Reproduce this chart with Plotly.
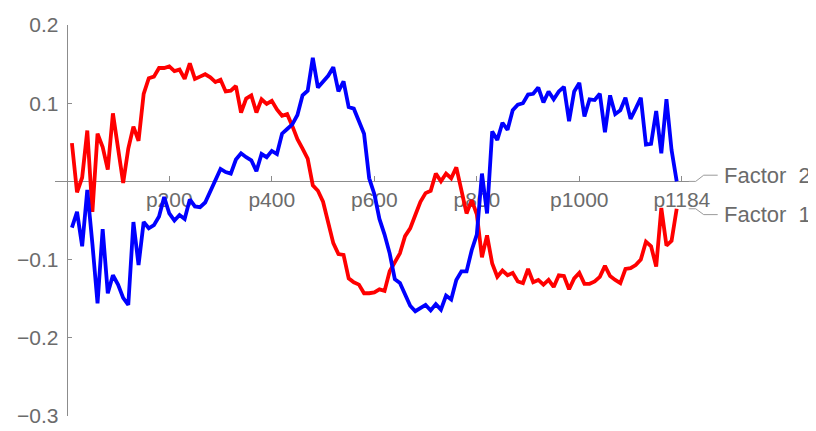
import plotly.graph_objects as go

# ---- data -------------------------------------------------------------
factor1 = [0.049, -0.014, 0.005, 0.065, -0.039, 0.061, 0.044, 0.015, 0.087, 0.045,
           -0.002, 0.042, 0.070, 0.052, 0.112, 0.132, 0.134, 0.145, 0.145, 0.147,
           0.141, 0.143, 0.131, 0.151, 0.131, 0.134, 0.137, 0.133, 0.127, 0.130,
           0.115, 0.116, 0.122, 0.088, 0.106, 0.110, 0.088, 0.105, 0.099, 0.103,
           0.092, 0.084, 0.086, 0.071, 0.054, 0.042, 0.029, -0.005, -0.012, -0.026,
           -0.051, -0.079, -0.093, -0.094, -0.124, -0.129, -0.132, -0.143, -0.143, -0.142,
           -0.138, -0.140, -0.115, -0.103, -0.092, -0.070, -0.060, -0.043, -0.026, -0.015,
           -0.012, 0.010, 0.000, 0.010, 0.004, 0.018, -0.013, -0.041, -0.024, -0.042,
           -0.097, -0.069, -0.105, -0.122, -0.114, -0.120, -0.117, -0.128, -0.130, -0.112,
           -0.129, -0.126, -0.132, -0.126, -0.135, -0.120, -0.121, -0.138, -0.124, -0.117,
           -0.131, -0.131, -0.128, -0.122, -0.108, -0.121, -0.126, -0.130, -0.112, -0.111,
           -0.107, -0.100, -0.077, -0.083, -0.109, -0.034, -0.082, -0.076, -0.035]

factor2 = [-0.059, -0.039, -0.083, -0.011, -0.080, -0.156, -0.061, -0.143, -0.120, -0.132,
           -0.149, -0.158, -0.052, -0.107, -0.052, -0.060, -0.056, -0.045, -0.020, -0.041,
           -0.050, -0.043, -0.048, -0.023, -0.032, -0.033, -0.027, -0.012, 0.004, 0.016,
           0.012, 0.010, 0.028, 0.036, 0.031, 0.027, 0.013, 0.035, 0.031, 0.039,
           0.035, 0.061, 0.067, 0.073, 0.085, 0.110, 0.116, 0.158, 0.120, 0.128,
           0.135, 0.146, 0.115, 0.128, 0.095, 0.093, 0.078, 0.061, 0.004, -0.016,
           -0.048, -0.068, -0.092, -0.125, -0.130, -0.146, -0.159, -0.166, -0.162, -0.158,
           -0.165, -0.157, -0.164, -0.146, -0.151, -0.126, -0.115, -0.115, -0.088, -0.068,
           0.010, -0.041, 0.064, 0.053, 0.075, 0.066, 0.091, 0.098, 0.100, 0.111,
           0.112, 0.120, 0.101, 0.115, 0.105, 0.115, 0.121, 0.077, 0.115, 0.126,
           0.083, 0.105, 0.104, 0.112, 0.063, 0.110, 0.086, 0.091, 0.107, 0.080,
           0.093, 0.107, 0.047, 0.048, 0.090, 0.036, 0.105, 0.040, 0.000]

index = list(range(1, len(factor1) + 1))

x_tick_vals = [20, 40, 60, 80, 100, 120]
x_tick_text = ["p200", "p400", "p600", "p800", "p1000", "p1184"]
y_tick_vals = [-0.3, -0.2, -0.1, 0.1, 0.2]
y_tick_text = ["\u22120.3", "\u22120.2", "\u22120.1", "0.1", "0.2"]
series_names = ["Factor\u00a0\u00a01", "Factor\u00a0\u00a02"]

# ---- layout constants -------------------------------------------------
# the page body adds an 8px margin, so the figure is sized to the visible area
W, H = 808, 423
ML, MR, MT, MB = 47, 127, 16.5, 14.7
XR = [-2.3, 121.4]
YR = [-0.3, 0.2]
AXIS = "#8c8c8c"
LBL = "#6b6b6b"
FONT = "Liberation Sans, Arial, sans-serif"

PW = W - ML - MR
PH = H - MT - MB


def to_px(xv, yv):
    px = ML + (xv - XR[0]) / (XR[1] - XR[0]) * PW
    py = MT + (YR[1] - yv) / (YR[1] - YR[0]) * PH
    return px, py


def px_to_paper(px, py):
    return (px - ML) / PW, (H - MB - py) / PH


fig = go.Figure()
fig.add_trace(go.Scatter(x=index, y=factor1, mode="lines",
                         line=dict(color="#ff0000", width=3.8), name=series_names[0]))
fig.add_trace(go.Scatter(x=index, y=factor2, mode="lines",
                         line=dict(color="#0000ff", width=3.8), name=series_names[1]))

# callout labels with leader lines
shapes = []
annotations = []
label_py = {0: 206.5, 1: 167.0}
for k, ser in enumerate([factor1, factor2]):
    ex, ey = to_px(index[-1], ser[-1])
    ly = label_py[k]
    pts = [(ex + 12, ey), (ex + 19, ey), (ex + 27, ly), (ex + 41, ly)]
    path = ""
    for j, (a, b) in enumerate(pts):
        pa, pb = px_to_paper(a, b)
        path += ("M" if j == 0 else "L") + f"{pa:.5f},{pb:.5f} "
    shapes.append(dict(type="path", xref="paper", yref="paper", path=path.strip(),
                       line=dict(color="#9a9a9a", width=1)))
    ax_, ay_ = px_to_paper(ex + 46, ly)
    annotations.append(dict(x=ax_, y=ay_, xref="paper", yref="paper",
                            xanchor="left", yanchor="middle", showarrow=False,
                            borderpad=0, text=series_names[k],
                            font=dict(family=FONT, size=22, color=LBL)))

fig.update_layout(
    template="none",
    width=W, height=H,
    margin=dict(l=ML, r=MR, t=MT, b=MB, pad=0, autoexpand=False),
    paper_bgcolor="white", plot_bgcolor="white",
    showlegend=False,
    shapes=shapes,
    annotations=annotations,
    xaxis=dict(range=XR, anchor="free", position=0.6, showgrid=False, zeroline=False,
               automargin=False, layer="below traces",
               showline=True, linecolor=AXIS, linewidth=1.2,
               ticks="inside", ticklen=5, tickwidth=1, tickcolor=AXIS,
               tickvals=x_tick_vals, ticktext=x_tick_text, ticklabelstandoff=-1,
               tickfont=dict(family=FONT, size=21, color=LBL)),
    yaxis=dict(range=YR, anchor="free", position=(0 - XR[0]) / (XR[1] - XR[0]),
               showgrid=False, zeroline=False,
               automargin=False, layer="below traces",
               showline=True, linecolor=AXIS, linewidth=1.2,
               ticks="inside", ticklen=4, tickwidth=1, tickcolor=AXIS,
               tickvals=y_tick_vals, ticktext=y_tick_text, ticklabelstandoff=4,
               tickfont=dict(family=FONT, size=21, color=LBL)),
)

fig.write_html("out.html", config={"displayModeBar": False})
